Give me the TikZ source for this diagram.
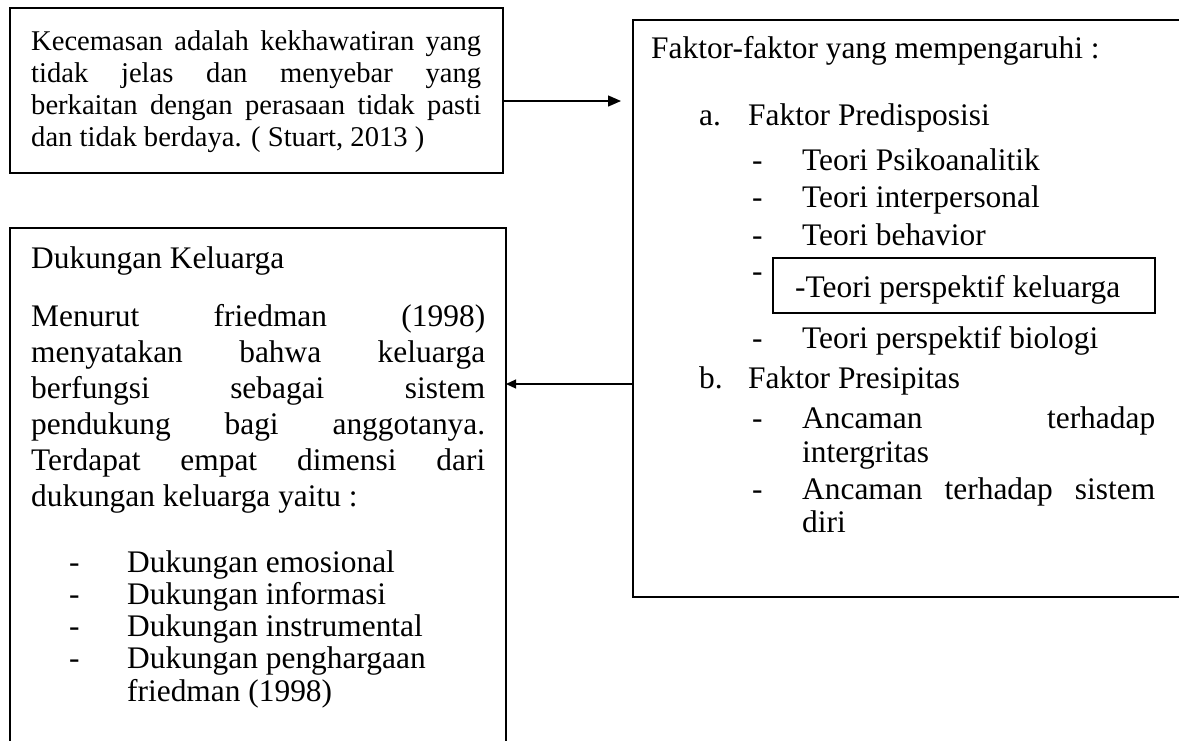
\documentclass[tikz,border=0pt]{standalone}
\usepackage{fontspec}
\setmainfont{Liberation Serif}
\usetikzlibrary{arrows.meta}
\tikzset{
  box/.style={draw, line width=2.3pt, inner sep=0pt, outer sep=0pt, anchor=north west},
  txt/.style={inner sep=0pt, anchor=base west, font=\fontsize{31.4}{36}\selectfont},
  stxt/.style={inner sep=0pt, anchor=base west, font=\fontsize{28.6}{32}\selectfont},
  arr/.style={line width=1.4pt, -{Triangle[length=13pt,width=11pt]}},
  sarr/.style={line width=1.2pt, -{Triangle[length=10pt,width=9pt]}},
}
\begin{document}
\begin{tikzpicture}[x=1pt,y=-1pt]
\useasboundingbox (0,0) rectangle (1179,740);
\clip (0,0) rectangle (1179,740);
\fill[white] (0,0) rectangle (1179,740);

% boxes
\node[box, minimum width=493pt, minimum height=165pt] (b1) at (10,8) {};
\node[box, minimum width=600pt, minimum height=577pt] (rb) at (633,20) {};
\node[box, minimum width=496pt, minimum height=540pt] (b2) at (10,228) {};
\node[box, line width=1.8pt, minimum width=382pt, minimum height=55pt] (sb) at (773,258) {};

% box 1 text
\node[stxt] (k1) at (31,50) {\makebox[450pt][s]{Kecemasan adalah kekhawatiran yang}};
\node[stxt] (k2) at (31,82) {\makebox[450pt][s]{tidak jelas dan menyebar yang}};
\node[stxt] (k3) at (31,114) {\makebox[450pt][s]{berkaitan dengan perasaan tidak pasti}};
\node[stxt] (k4) at (31,146) {dan tidak berdaya. ( Stuart, 2013 )};

% right box text
\node[txt] (f0) at (651,58) {Faktor-faktor yang mempengaruhi :};
\node[txt] (fa) at (699,125) {a.};
\node[txt] (fat) at (748,125) {Faktor Predisposisi};
\node[txt] (d1) at (752,170) {-};
\node[txt] (p1) at (802,170) {Teori Psikoanalitik};
\node[txt] (d2) at (752,207) {-};
\node[txt] (p2) at (802,207) {Teori interpersonal};
\node[txt] (d3) at (752,245) {-};
\node[txt] (p3) at (802,245) {Teori behavior};
\node[txt] (d4) at (752,281) {-};
\node[txt] (p4) at (795,297) {-Teori perspektif keluarga};
\node[txt] (d5) at (752,348) {-};
\node[txt] (p5) at (802,348) {Teori perspektif biologi};
\node[txt] (fb) at (699,388) {b.};
\node[txt] (fbt) at (748,388) {Faktor Presipitas};
\node[txt] (d6) at (752,428) {-};
\node[txt] (q1) at (802,428) {\makebox[353pt][s]{Ancaman terhadap}};
\node[txt] (q2) at (802,462) {intergritas};
\node[txt] (d7) at (752,499) {-};
\node[txt] (q3) at (802,499) {\makebox[353pt][s]{Ancaman terhadap sistem}};
\node[txt] (q4) at (802,532) {diri};

% left box text
\node[txt] (h0) at (31,268) {Dukungan Keluarga};
\node[txt] (m1) at (31,326) {\makebox[454pt][s]{Menurut friedman (1998)}};
\node[txt] (m2) at (31,362) {\makebox[454pt][s]{menyatakan bahwa keluarga}};
\node[txt] (m3) at (31,398) {\makebox[454pt][s]{berfungsi sebagai sistem}};
\node[txt] (m4) at (31,434) {\makebox[454pt][s]{pendukung bagi anggotanya.}};
\node[txt] (m5) at (31,470) {\makebox[454pt][s]{Terdapat empat dimensi dari}};
\node[txt] (m6) at (31,506) {dukungan keluarga yaitu :};
\node[txt] (e1) at (69,572) {-};
\node[txt] (g1) at (127,572) {Dukungan emosional};
\node[txt] (e2) at (69,604) {-};
\node[txt] (g2) at (127,604) {Dukungan informasi};
\node[txt] (e3) at (69,636) {-};
\node[txt] (g3) at (127,636) {Dukungan instrumental};
\node[txt] (e4) at (69,668) {-};
\node[txt] (g4) at (127,668) {Dukungan penghargaan};
\node[txt] (g5) at (127,701) {friedman (1998)};

% connectors
\coordinate (a1) at (0,101);
\coordinate (a2) at (0,384);
\draw[arr, shorten >=12pt] (b1.east |- a1) -- (rb.west |- a1);
\draw[sarr] (rb.west |- a2) -- (b2.east |- a2);
\end{tikzpicture}
\end{document}
